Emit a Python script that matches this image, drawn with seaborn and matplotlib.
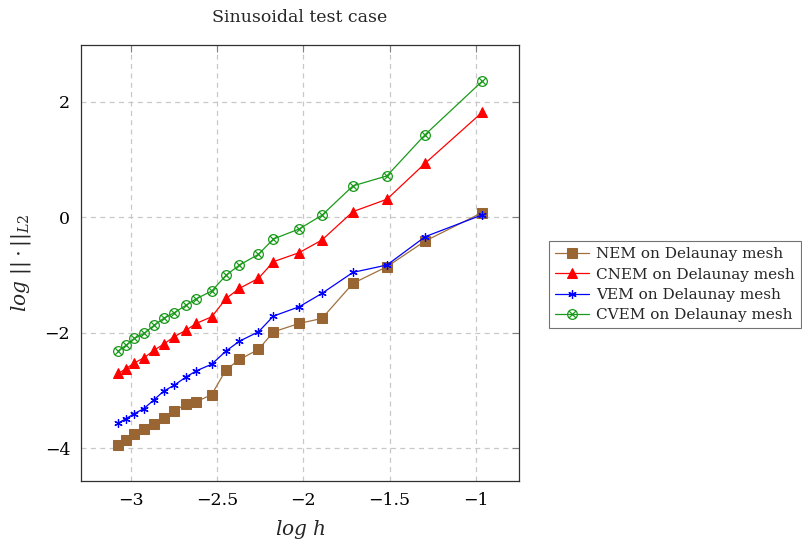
import numpy as np
import pandas as pd
import matplotlib
matplotlib.use("Agg")
import matplotlib.pyplot as plt
from matplotlib.path import Path
import seaborn as sns

# ---- data ----
log_h = [-3.072, -3.027, -2.979, -2.924, -2.864, -2.810, -2.749, -2.679, -2.621, -2.531,
         -2.447, -2.370, -2.260, -2.173, -2.024, -1.892, -1.712, -1.515, -1.293, -0.964]
nem = [-3.948, -3.850, -3.758, -3.659, -3.572, -3.475, -3.353, -3.237, -3.197, -3.069,
       -2.636, -2.462, -2.289, -1.984, -1.838, -1.752, -1.144, -0.856, -0.411, 0.080]
cnem = [-2.705, -2.619, -2.521, -2.434, -2.301, -2.197, -2.070, -1.954, -1.838, -1.723,
        -1.405, -1.231, -1.058, -0.769, -0.613, -0.394, 0.098, 0.312, 0.936, 1.814]
vem = [-3.561, -3.486, -3.399, -3.312, -3.156, -3.012, -2.908, -2.764, -2.660, -2.544,
       -2.313, -2.145, -1.984, -1.711, -1.550, -1.318, -0.954, -0.827, -0.336, 0.040]
cvem = [-2.313, -2.214, -2.099, -2.012, -1.868, -1.752, -1.654, -1.521, -1.411, -1.278,
        -1.001, -0.827, -0.642, -0.376, -0.203, 0.035, 0.543, 0.716, 1.432, 2.351]
labels = ["NEM on Delaunay mesh", "CNEM on Delaunay mesh",
          "VEM on Delaunay mesh", "CVEM on Delaunay mesh"]
xticks = [-3, -2.5, -2, -1.5, -1]
yticks = [-4, -2, 0, 2]

sns.set_theme(style="white")
plt.rcParams["font.family"] = ["DejaVu Serif"]
plt.rcParams["mathtext.fontset"] = "dejavuserif"

otimes = Path.make_compound_path(
    Path.unit_circle(),
    Path([(-0.7071, -0.7071), (0.7071, 0.7071)], [Path.MOVETO, Path.LINETO]),
    Path([(-0.7071, 0.7071), (0.7071, -0.7071)], [Path.MOVETO, Path.LINETO]),
)

fig = plt.figure(figsize=(8.02, 5.44), dpi=100)
ax = fig.add_axes([0.1014, 0.1153, 0.5454, 0.8025])

styles = [
    dict(color="#A0703E", marker="s", markersize=7.5, markerfacecolor="#996633",
         markeredgecolor="#996633", lw=0.9),
    dict(color="#FF0000", marker="^", markersize=7.5, markerfacecolor="#FF0000",
         markeredgecolor="#FF0000", lw=0.9),
    dict(color="#0000FF", marker=(6, 2, 0), markersize=6, markeredgewidth=0.9,
         markeredgecolor="#0000FF", lw=0.9),
    dict(color="#1A9A1A", marker=otimes, markersize=7, markerfacecolor="none",
         markeredgecolor="#1A9A1A", markeredgewidth=0.9, lw=0.9),
]
for ys, lab, st in zip([nem, cnem, vem, cvem], labels, styles):
    df = pd.DataFrame({"x": log_h, "y": ys})
    sns.lineplot(data=df, x="x", y="y", ax=ax, label=lab, estimator=None, sort=False, **st)

ax.set_xlim(-3.287, -0.751)
ax.set_ylim(-4.571, 2.987)
ax.set_xticks(xticks)
ax.set_yticks(yticks)
ax.set_xticklabels([("\u2212" + f"{abs(v):g}") if v < 0 else f"{v:g}" for v in xticks])
ax.set_yticklabels([("\u2212" + f"{abs(v):g}") if v < 0 else f"{v:g}" for v in yticks])
ax.tick_params(direction="in", length=5, width=0.8, colors="#808080", labelcolor="black",
               labelsize=12.5, top=True, right=True, pad=8)
ax.grid(True, color="#C8C8C8", linestyle=(0, (4, 3.5)), linewidth=0.9)
for s in ax.spines.values():
    s.set_color("#303030")
    s.set_linewidth(0.9)

ax.set_title("Sinusoidal test case", fontsize=12.5, pad=16)
ax.set_xlabel(r"$log\ h$", fontsize=14.5, labelpad=6)
ax.set_ylabel(r"$log\ ||\cdot||_{L2}$", fontsize=14.5, labelpad=8)

ax.get_legend().remove()
handles, labs = ax.get_legend_handles_labels()
leg = fig.legend(handles, labs, loc="upper left", bbox_to_anchor=(0.6845, 0.557),
                 bbox_transform=fig.transFigure, borderaxespad=0, frameon=True,
                 fancybox=False, edgecolor="#505050", fontsize=11, handlelength=2.2,
                 labelspacing=0.42, borderpad=0.4, handletextpad=0.5)
leg.get_frame().set_linewidth(0.8)

fig.savefig("out.png", dpi=100)
